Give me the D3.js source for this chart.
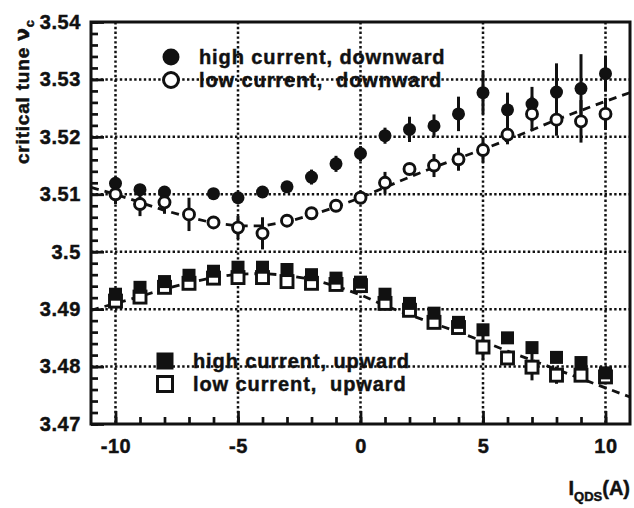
<!DOCTYPE html>
<html>
<head>
<meta charset="utf-8">
<script src="https://cdn.jsdelivr.net/npm/d3@7"></script>
<style>
  body { margin: 0; background: #fff; }
  text { font-family: "Liberation Sans", Arial, sans-serif; font-weight: bold; fill: #111; stroke: #111; stroke-width: 0.45px; }
</style>
</head>
<body>
<div id="chart"></div>
<script>
// data
const current = [-10, -9, -8, -7, -6, -5, -4, -3, -2, -1, 0, 1, 2, 3, 4, 5, 6, 7, 8, 9, 10];

const highDown    = [3.5119, 3.5108, 3.5104, null, 3.5101, 3.5094, 3.5104, 3.5113, 3.5130, 3.5153, 3.5171, 3.5202, 3.5213, 3.5219, 3.5240, 3.5277, 3.5247, 3.5257, 3.5278, 3.5284, 3.5310];
const highDownErr = [0.0012, 0.0010, 0.0008, null, 0.0008, 0.0008, 0.0008, 0.0008, 0.0013, 0.0014, 0.0013, 0.0014, 0.0022, 0.0020, 0.0030, 0.0038, 0.0030, 0.0030, 0.0050, 0.0060, 0.0031];
const lowDown     = [3.5100, 3.5083, 3.5086, 3.5065, 3.5051, 3.5042, 3.5032, 3.5054, 3.5067, 3.5080, 3.5094, 3.5120, 3.5144, 3.5150, 3.5161, 3.5177, 3.5204, 3.5240, 3.5230, 3.5227, 3.5240];
const lowDownErr  = [0.0017, 0.0021, 0.0020, 0.0029, 0.0008, 0.0020, 0.0028, 0.0010, 0.0010, 0.0010, 0.0010, 0.0019, 0.0010, 0.0020, 0.0020, 0.0022, 0.0017, 0.0030, 0.0028, 0.0037, 0.0028];

const highUp      = [3.4926, 3.4938, 3.4948, 3.4959, 3.4966, 3.4973, 3.4973, 3.4969, 3.4960, 3.4954, 3.4947, 3.4926, 3.4910, 3.4893, 3.4877, 3.4864, 3.4850, 3.4833, 3.4816, 3.4807, 3.4789];
const highUpErr   = [0.0008, 0.0008, 0.0008, 0.0008, 0.0008, 0.0008, 0.0008, 0.0008, 0.0008, 0.0008, 0.0008, 0.0008, 0.0008, 0.0008, 0.0008, 0.0008, 0.0008, 0.0008, 0.0008, 0.0008, 0.0008];
const lowUp       = [3.4914, 3.4921, 3.4938, 3.4945, 3.4954, 3.4955, 3.4955, 3.4948, 3.4945, 3.4943, 3.4941, 3.4910, 3.4898, 3.4877, 3.4868, 3.4834, 3.4815, 3.4799, 3.4785, 3.4785, 3.4782];
const lowUpErr    = [0.0010, 0.0010, 0.0008, 0.0010, 0.0008, 0.0008, 0.0008, 0.0008, 0.0008, 0.0008, 0.0008, 0.0008, 0.0008, 0.0010, 0.0010, 0.0023, 0.0012, 0.0023, 0.0015, 0.0010, 0.0010];

// dashed fit curves
const fitX    = [-11, -10, -9, -8, -7, -6, -5, -4, -3, -2, -1, 0, 1, 2, 3, 4, 5, 6, 7, 8, 9, 10, 11];
const fitDown = [3.5112, 3.5100, 3.5086, 3.5072, 3.5060, 3.5050, 3.5045, 3.5045, 3.5052, 3.5064, 3.5078, 3.5094, 3.5112, 3.5130, 3.5147, 3.5163, 3.5178, 3.5195, 3.5212, 3.5230, 3.5246, 3.5262, 3.5277];
const fitUp   = [3.4898, 3.4910, 3.4922, 3.4935, 3.4946, 3.4955, 3.4961, 3.4962, 3.4959, 3.4952, 3.4940, 3.4925, 3.4906, 3.4890, 3.4875, 3.4860, 3.4844, 3.4827, 3.4811, 3.4795, 3.4779, 3.4763, 3.4747];

const xTicks = [-10, -5, 0, 5, 10];
const xTickLabels = ["-10", "-5", "0", "5", "10"];
const yTicks = [3.47, 3.48, 3.49, 3.50, 3.51, 3.52, 3.53, 3.54];
const yTickLabels = ["3.47", "3.48", "3.49", "3.5", "3.51", "3.52", "3.53", "3.54"];

const legendTop = ["high current, downward", "low current,  downward"];
const legendBottom = ["high current, upward", "low current,  upward"];

const width = 634, height = 508;
const m = { left: 91, right: 630, top: 22, bottom: 424 };

let svg = d3.select("#chart")
  .append("svg")
    .attr("width", width)
    .attr("height", height);

let x = d3.scaleLinear().domain([-11, 11]).range([m.left, m.right]);
let y = d3.scaleLinear().domain([3.47, 3.54]).range([m.bottom, m.top]);

// dotted grid
svg.append("g").selectAll("line").data(xTicks)
  .enter().append("line")
    .attr("x1", d => x(d)).attr("x2", d => x(d))
    .attr("y1", m.top).attr("y2", m.bottom)
    .attr("stroke", "#111").attr("stroke-width", 2.5).attr("stroke-dasharray", "2.4,2.4");

svg.append("g").selectAll("line").data(yTicks.slice(1, -1))
  .enter().append("line")
    .attr("x1", m.left).attr("x2", m.right)
    .attr("y1", d => y(d)).attr("y2", d => y(d))
    .attr("stroke", "#111").attr("stroke-width", 2.5).attr("stroke-dasharray", "2.4,2.4");

// axes, ticks pointing inward
let yMinor = svg.append("g").attr("transform", `translate(${m.left},0)`)
  .call(d3.axisLeft(y).ticks(35).tickSize(-7).tickFormat(""));
let yMajor = svg.append("g").attr("transform", `translate(${m.left},0)`)
  .call(d3.axisLeft(y).tickValues(yTicks).tickSize(-13).tickPadding(10)
    .tickFormat((d, i) => yTickLabels[i]));
let xMinor = svg.append("g").attr("transform", `translate(0,${m.bottom})`)
  .call(d3.axisBottom(x).tickValues(current).tickSize(-7).tickFormat(""));
let xMajor = svg.append("g").attr("transform", `translate(0,${m.bottom})`)
  .call(d3.axisBottom(x).tickValues(xTicks).tickSize(-13).tickPadding(15)
    .tickFormat((d, i) => xTickLabels[i]));

[yMinor, yMajor, xMinor, xMajor].forEach(a => {
  a.select(".domain").remove();
  a.selectAll("line").attr("stroke", "#111").attr("stroke-width", 2.7);
  a.selectAll("text").attr("font-size", 20).attr("fill", "#111")
    .attr("font-family", "Liberation Sans, Arial, sans-serif").attr("font-weight", "bold")
    .style("letter-spacing", "0.6px");
});

// frame
svg.append("rect")
  .attr("x", m.left).attr("y", m.top)
  .attr("width", m.right - m.left).attr("height", m.bottom - m.top)
  .attr("fill", "none").attr("stroke", "#111").attr("stroke-width", 3);

// fits
let fitLine = d3.line().x(d => x(d[0])).y(d => y(d[1]));
[fitDown, fitUp].forEach(f => {
  svg.append("path")
    .datum(fitX.map((v, i) => [v, f[i]]))
    .attr("d", fitLine)
    .attr("fill", "none").attr("stroke", "#111")
    .attr("stroke-width", 2.8).attr("stroke-dasharray", "8,6");
});

function series(vals, errs) {
  return current.map((c, i) => ({ c: c, v: vals[i], e: errs[i] })).filter(d => d.v != null);
}

function errorBars(data) {
  svg.append("g").selectAll("line").data(data)
    .enter().append("line")
      .attr("x1", d => x(d.c)).attr("x2", d => x(d.c))
      .attr("y1", d => y(d.v - d.e)).attr("y2", d => y(d.v + d.e))
      .attr("stroke", "#111").attr("stroke-width", 3);
}

let hd = series(highDown, highDownErr);
let ld = series(lowDown, lowDownErr);
let hu = series(highUp, highUpErr);
let lu = series(lowUp, lowUpErr);

errorBars(hd); errorBars(ld); errorBars(hu); errorBars(lu);

svg.append("g").selectAll("circle").data(hd)
  .enter().append("circle")
    .attr("cx", d => x(d.c)).attr("cy", d => y(d.v)).attr("r", 6.5)
    .attr("fill", "#111");

svg.append("g").selectAll("circle").data(ld)
  .enter().append("circle")
    .attr("cx", d => x(d.c)).attr("cy", d => y(d.v)).attr("r", 5.5)
    .attr("fill", "#fff").attr("stroke", "#111").attr("stroke-width", 2.9);

svg.append("g").selectAll("rect").data(lu)
  .enter().append("rect")
    .attr("x", d => x(d.c) - 6).attr("y", d => y(d.v) - 6)
    .attr("width", 12).attr("height", 12)
    .attr("fill", "#fff").attr("stroke", "#111").attr("stroke-width", 2.9);

svg.append("g").selectAll("rect").data(hu)
  .enter().append("rect")
    .attr("x", d => x(d.c) - 6.5).attr("y", d => y(d.v) - 6.5)
    .attr("width", 13).attr("height", 13)
    .attr("fill", "#111");

// legends
function legend(labels, cx, cy0, shape) {
  labels.forEach((lab, i) => {
    let cy = cy0 + i * 23;
    let filled = i == 0;
    if (shape == "circle") {
      svg.append("circle").attr("cx", cx).attr("cy", cy).attr("r", filled ? 8.5 : 7.5)
        .attr("fill", filled ? "#111" : "#fff")
        .attr("stroke", "#111").attr("stroke-width", filled ? 0 : 3);
    } else {
      let s = filled ? 17 : 15;
      svg.append("rect").attr("x", cx - s / 2).attr("y", cy - s / 2)
        .attr("width", s).attr("height", s)
        .attr("fill", filled ? "#111" : "#fff")
        .attr("stroke", "#111").attr("stroke-width", filled ? 0 : 3);
    }
    svg.append("text").attr("x", cx + 28).attr("y", cy + 7)
      .attr("font-size", 20).style("letter-spacing", "0.9px").style("white-space", "pre")
      .text(lab);
  });
}
legend(legendTop, 171, 57, "circle");
legend(legendBottom, 165, 361, "square");

// axis titles
let yt = svg.append("text")
  .attr("transform", "translate(29,164) rotate(-90)")
  .attr("font-size", 19).style("letter-spacing", "0.8px");
yt.append("tspan").text("critical tune ");
yt.append("tspan").attr("font-family", "DejaVu Sans").text("ν");
yt.append("tspan").attr("font-size", 13).attr("dy", 5).text("c");

let xt = svg.append("text")
  .attr("x", 630).attr("y", 495).attr("text-anchor", "end")
  .attr("font-size", 20);
xt.append("tspan").text("I");
xt.append("tspan").attr("font-size", 13).attr("dy", 6).text("QDS");
xt.append("tspan").attr("dy", -6).text("(A)");
</script>
</body>
</html>
